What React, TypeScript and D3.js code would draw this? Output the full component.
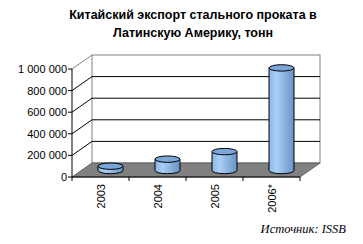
import React from "react";
import * as d3 from "d3";

const categories = ["2003", "2004", "2005", "2006*"];
const values = [40000, 105000, 175000, 950000];
const yTicks = [0, 200000, 400000, 600000, 800000, 1000000];
const tickLabels = ["0", "200 000", "400 000", "600 000", "800 000", "1 000 000"];
const titleLines = ["Китайский экспорт стального проката в", "Латинскую Америку, тонн"];
const sourceText = "Источник: ISSB";

export default function App() {
  const W = 363, H = 244;
  const x0 = 72, x1 = 300;
  const depthX = 20, depthY = -14;
  const y = d3.scaleLinear().domain([0, 1000000]).range([177, 69]);
  const xb = d3.scaleBand<string>().domain(categories).range([x0, x1]).paddingInner(0).paddingOuter(0);
  const rx = 12.5, ry = 3.2;
  const font = "Arial, 'Liberation Sans', sans-serif";

  const floor = [
    [x0, y(0)], [x1, y(0)], [x1 + depthX, y(0) + depthY], [x0 + depthX, y(0) + depthY],
  ].map((p) => p.join(",")).join(" ");

  return (
    <svg width={W} height={H} style={{ position: "absolute", left: 0, top: 0, background: "#fff" }}>
      <defs>
        <linearGradient id="cyl" x1="0" x2="1" y1="0" y2="0">
          <stop offset="0%" stopColor="#8CB6E6" />
          <stop offset="30%" stopColor="#A9CFF6" />
          <stop offset="100%" stopColor="#6893C6" />
        </linearGradient>
      </defs>
      {titleLines.map((t, i) => (
        <text key={i} x={193} y={19 + i * 18} textAnchor="middle" fontFamily={font} fontWeight="bold" fontSize={12.5} fill="#000">
          {t}
        </text>
      ))}
      {/* back wall */}
      <rect x={x0 + depthX} y={y(1000000) + depthY} width={x1 - x0} height={y(0) - y(1000000)} fill="#fff" stroke="#808080" strokeWidth={1} />
      {/* floor */}
      <polygon points={floor} fill="#808080" stroke="#606060" strokeWidth={1} />
      {/* gridlines on back wall and left wall diagonals */}
      {yTicks.map((t, i) => (
        <g key={i}>
          {t > 0 && t < 1000000 && (
            <line x1={x0 + depthX} x2={x1 + depthX} y1={y(t) + depthY} y2={y(t) + depthY} stroke="#000" strokeWidth={1} />
          )}
          {t > 0 && (
            <line x1={x0} y1={y(t)} x2={x0 + depthX} y2={y(t) + depthY} stroke={t === 1000000 ? "#808080" : "#000"} strokeWidth={1} />
          )}
        </g>
      ))}
      {/* left axis */}
      <line x1={x0} x2={x0} y1={y(0)} y2={y(1000000)} stroke="#000" />
      {yTicks.map((t, i) => (
        <g key={i}>
          <line x1={x0 - 4} x2={x0} y1={y(t)} y2={y(t)} stroke="#000" />
          <text x={67} y={y(t) + 4} textAnchor="end" fontFamily={font} fontSize={11} fill="#000">
            {tickLabels[i]}
          </text>
        </g>
      ))}
      {/* bottom axis */}
      <line x1={x0} x2={x1} y1={y(0)} y2={y(0)} stroke="#000" />
      {[...categories.map((c) => xb(c) as number), x1].map((xv, i) => (
        <line key={i} x1={xv} x2={xv} y1={y(0)} y2={y(0) + 4} stroke="#000" />
      ))}
      {categories.map((c) => {
        const cx = (xb(c) as number) + xb.bandwidth() / 2;
        return (
          <text key={c} transform={`translate(${cx + 4},${184}) rotate(-90)`} textAnchor="end" fontFamily={font} fontSize={11} fill="#000">
            {c}
          </text>
        );
      })}
      {/* cylinders */}
      {categories.map((c, i) => {
        const cx = (xb(c) as number) + xb.bandwidth() / 2 + depthX / 2;
        const yb = y(0) + depthY / 2 + 0.5;
        const yt = y(values[i]) + depthY / 2 + 0.5;
        const body = `M${cx - rx},${yt} L${cx - rx},${yb} A${rx},${ry} 0 0 0 ${cx + rx},${yb} L${cx + rx},${yt} Z`;
        return (
          <g key={c}>
            <path d={body} fill="url(#cyl)" stroke="#000" strokeWidth={1} />
            <ellipse cx={cx} cy={yt} rx={rx} ry={ry} fill="#7AA6D9" stroke="#000" strokeWidth={1} />
          </g>
        );
      })}
      <text x={346} y={233} textAnchor="end" fontFamily="'Liberation Serif', 'Times New Roman', serif" fontStyle="italic" fontSize={12.5} fill="#000">
        {sourceText}
      </text>
    </svg>
  );
}
